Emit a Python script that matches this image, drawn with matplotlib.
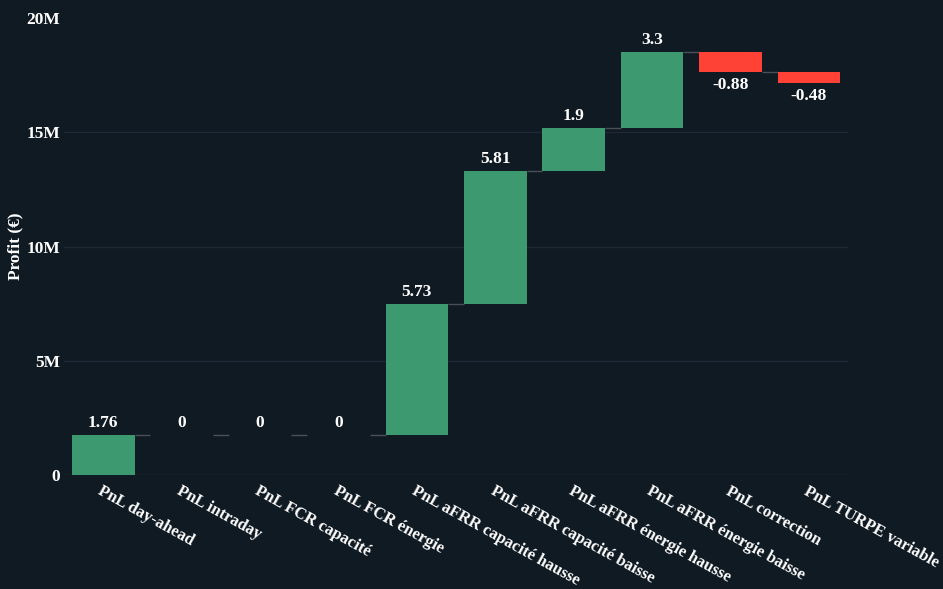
import matplotlib.pyplot as plt
import numpy as np
from matplotlib.ticker import FuncFormatter

# PnL breakdown, values in millions of euros
categories = [
    "PnL day-ahead",
    "PnL intraday",
    "PnL FCR capacité",
    "PnL FCR énergie",
    "PnL aFRR capacité hausse",
    "PnL aFRR capacité baisse",
    "PnL aFRR énergie hausse",
    "PnL aFRR énergie baisse",
    "PnL correction",
    "PnL TURPE variable",
]
values = [1.76, 0, 0, 0, 5.73, 5.81, 1.9, 3.3, -0.88, -0.48]
value_labels = ["1.76", "0", "0", "0", "5.73", "5.81", "1.9", "3.3", "-0.88", "-0.48"]
y_ticks = [0, 5, 10, 15, 20]

BG = "#101a23"
GREEN = "#3d9970"
RED = "#ff4136"
FS = 12
plt.rcParams["font.family"] = ["Liberation Serif", "DejaVu Serif"]
plt.rcParams["font.weight"] = "bold"

vals = np.array(values) * 1e6
ends = np.cumsum(vals)
starts = ends - vals
x = np.arange(len(categories))
width = 0.8

fig = plt.figure(figsize=(9.43, 5.89), dpi=100, facecolor=BG)
ax = fig.add_axes([0.0679, 0.1935, 0.8315, 0.7759], facecolor=BG)

colors = [GREEN if v >= 0 else RED for v in vals]
ax.bar(x, vals, bottom=starts, width=width, color=colors, zorder=3)

# connectors between consecutive bars
ax.hlines(ends[:-1], x[:-1] + width / 2, x[1:] - width / 2,
          color="#4a4f55", linewidth=1, zorder=2)

for xi, v, top, lab in zip(x, vals, ends, value_labels):
    off, va = (3, "bottom") if v >= 0 else (-3, "top")
    ax.annotate(lab, (xi, top), xytext=(0, off), textcoords="offset points",
                ha="center", va=va, color="white", fontsize=FS + 0.5,
                fontweight="bold")

ax.set_xlim(-0.5, len(categories) - 0.5)
ax.set_ylim(0, 20e6)
ax.set_yticks([t * 1e6 for t in y_ticks])
ax.yaxis.set_major_formatter(FuncFormatter(lambda v, p: "0" if v == 0 else f"{v / 1e6:.0f}M"))

# horizontal grid, none along the top edge
for t in y_ticks[:-1]:
    ax.axhline(t * 1e6, color="#1e2933" if t else "#26313b", linewidth=1, zorder=0)
for s in ax.spines.values():
    s.set_visible(False)

ax.set_xticks(x)
ax.set_xticklabels(categories, rotation=-29, ha="left", rotation_mode="anchor")
ax.tick_params(axis="both", length=0, colors="white", labelsize=FS)
ax.tick_params(axis="x", pad=6)
ax.tick_params(axis="y", labelsize=FS + 0.5, pad=3)
for lab in ax.get_xticklabels() + ax.get_yticklabels():
    lab.set_fontweight("bold")

fig.text(15 / 943, 1 - 246 / 589, "Profit (€)", rotation=90, ha="center", va="center",
         color="white", fontsize=FS + 0.5, fontweight="bold")

fig.savefig("out.png", dpi=100, facecolor=BG)
